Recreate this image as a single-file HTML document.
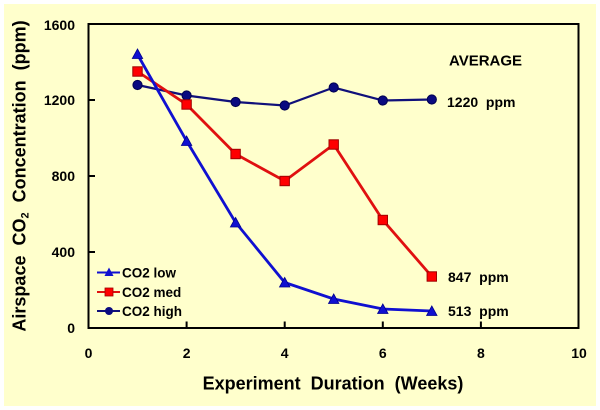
<!DOCTYPE html>
<html>
<head>
<meta charset="utf-8">
<style>
  html, body { margin: 0; padding: 0; background: #ffffff; }
  svg { display: block; }
  text { font-family: "Liberation Sans", Arial, sans-serif; font-weight: bold; fill: #000; white-space: pre; }
</style>
</head>
<body>
<svg width="600" height="410" viewBox="0 0 600 410" xmlns="http://www.w3.org/2000/svg">
  <rect x="0" y="0" width="600" height="410" fill="#ffffff"/>
  <rect x="4" y="4" width="592" height="402" fill="#FFFFCC"/>

  <!-- plot frame -->
  <rect x="88.5" y="24" width="490" height="304" fill="none" stroke="#000" stroke-width="2"/>

  <!-- y ticks (inside) -->
  <g stroke="#000" stroke-width="2">
    <line x1="88.5" y1="252" x2="95" y2="252"/>
    <line x1="88.5" y1="176" x2="95" y2="176"/>
    <line x1="88.5" y1="100" x2="95" y2="100"/>
    <!-- x ticks (inside) -->
    <line x1="186.6" y1="328" x2="186.6" y2="321.5"/>
    <line x1="284.7" y1="328" x2="284.7" y2="321.5"/>
    <line x1="382.8" y1="328" x2="382.8" y2="321.5"/>
    <line x1="480.9" y1="328" x2="480.9" y2="321.5"/>
  </g>

  <!-- y tick labels -->
  <g font-size="14" text-anchor="end">
    <text x="75" y="333">0</text>
    <text x="75" y="257">400</text>
    <text x="75" y="181">800</text>
    <text x="75" y="105">1200</text>
    <text x="75" y="30">1600</text>
  </g>
  <!-- x tick labels -->
  <g font-size="14" text-anchor="middle">
    <text x="88.5" y="358">0</text>
    <text x="186.6" y="358">2</text>
    <text x="284.7" y="358">4</text>
    <text x="382.8" y="358">6</text>
    <text x="480.9" y="358">8</text>
    <text x="579" y="358">10</text>
  </g>

  <!-- axis titles -->
  <text x="333" y="389.5" font-size="18" text-anchor="middle">Experiment  Duration  (Weeks)</text>
  <text transform="translate(25.5,176) rotate(-90)" font-size="18" text-anchor="middle">Airspace  CO<tspan font-size="11" dy="3">2</tspan><tspan dy="-3">  Concentration  (ppm)</tspan></text>

  <!-- CO2 high -->
  <polyline fill="none" stroke="#10107A" stroke-width="2.2" points="137.5,85 186.6,95.5 235.6,102 284.7,105.5 333.7,87.5 382.8,100.5 431.8,99.5"/>
  <g fill="#0A0A80" stroke="#000050" stroke-width="1">
    <circle cx="137.5" cy="85" r="4.6"/>
    <circle cx="186.6" cy="95.5" r="4.6"/>
    <circle cx="235.6" cy="102" r="4.6"/>
    <circle cx="284.7" cy="105.5" r="4.6"/>
    <circle cx="333.7" cy="87.5" r="4.6"/>
    <circle cx="382.8" cy="100.5" r="4.6"/>
    <circle cx="431.8" cy="99.5" r="4.6"/>
  </g>

  <!-- CO2 med -->
  <polyline fill="none" stroke="#E01010" stroke-width="2.8" points="137.5,71.5 186.6,104.5 235.6,154 284.7,181 333.7,144.5 382.8,220 431.8,276.5"/>
  <g fill="#FF0000" stroke="#A00000" stroke-width="1">
    <rect x="132.8" y="66.8" width="9.4" height="9.4"/>
    <rect x="181.9" y="99.8" width="9.4" height="9.4"/>
    <rect x="230.9" y="149.3" width="9.4" height="9.4"/>
    <rect x="280" y="176.3" width="9.4" height="9.4"/>
    <rect x="329" y="139.8" width="9.4" height="9.4"/>
    <rect x="378.1" y="215.3" width="9.4" height="9.4"/>
    <rect x="427.1" y="271.8" width="9.4" height="9.4"/>
  </g>

  <!-- CO2 low -->
  <polyline fill="none" stroke="#1010D0" stroke-width="2.8" points="137.5,54.5 186.6,141 235.6,222.5 284.7,282.5 333.7,299 382.8,309 431.8,311"/>
  <g fill="#1010D0" stroke="#000090" stroke-width="0.8">
    <polygon points="137.5,49 142.7,58.5 132.3,58.5"/>
    <polygon points="186.6,136 191.8,145.5 181.4,145.5"/>
    <polygon points="235.6,217.5 240.8,227 230.4,227"/>
    <polygon points="284.7,277.5 289.9,287 279.5,287"/>
    <polygon points="333.7,294 338.9,303.5 328.5,303.5"/>
    <polygon points="382.8,304 388,313.5 377.6,313.5"/>
    <polygon points="431.8,306 437,315.5 426.6,315.5"/>
  </g>

  <!-- legend -->
  <line x1="97" y1="272.5" x2="120" y2="272.5" stroke="#1010D0" stroke-width="2"/>
  <polygon points="109,267.5 113.5,276 104.5,276" fill="#1010D0"/>
  <line x1="97" y1="292" x2="120" y2="292" stroke="#E01010" stroke-width="2"/>
  <rect x="105" y="288" width="8" height="8" fill="#FF0000" stroke="#A00000" stroke-width="0.8"/>
  <line x1="97" y1="311" x2="120" y2="311" stroke="#10107A" stroke-width="2"/>
  <circle cx="109" cy="311" r="4" fill="#0A0A80"/>
  <g font-size="13.5">
    <text x="122" y="277.5">CO2 low</text>
    <text x="122" y="297">CO2 med</text>
    <text x="122" y="316">CO2 high</text>
  </g>

  <!-- annotations -->
  <text x="449" y="65.5" font-size="15">AVERAGE</text>
  <text x="447" y="107" font-size="14">1220  ppm</text>
  <text x="448" y="282" font-size="14">847  ppm</text>
  <text x="448" y="316" font-size="14">513  ppm</text>
</svg>
</body>
</html>
